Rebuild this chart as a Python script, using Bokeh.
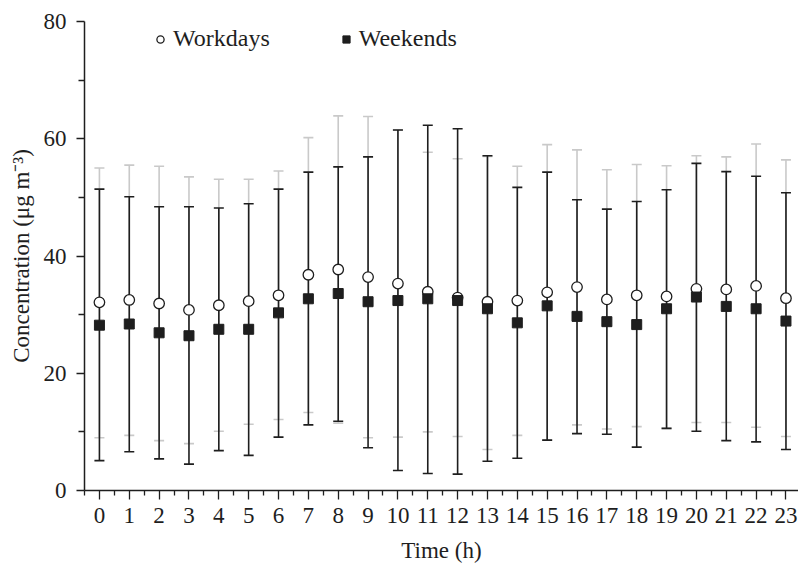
from bokeh.plotting import figure
from bokeh.models import ColumnDataSource, Whisker, TeeHead, FixedTicker, Legend, LegendItem, Range1d
from bokeh.embed import file_html
from bokeh.resources import INLINE

hours = list(range(24))
work_mean = [32.1, 32.5, 31.9, 30.8, 31.6, 32.3, 33.3, 36.8, 37.7, 36.4, 35.3, 33.9,
             32.9, 32.2, 32.4, 33.8, 34.7, 32.6, 33.3, 33.1, 34.4, 34.3, 34.9, 32.8]
work_upper = [55.0, 55.5, 55.3, 53.5, 53.1, 53.1, 54.5, 60.2, 63.9, 63.8, 61.5, 57.7,
              56.6, 57.0, 55.3, 59.0, 58.1, 54.7, 55.6, 55.4, 57.1, 56.9, 59.1, 56.4]
work_lower = [9.0, 9.4, 8.5, 8.0, 10.1, 11.3, 12.1, 13.3, 11.5, 9.0, 9.1, 10.0,
              9.2, 7.0, 9.4, 8.6, 11.2, 10.5, 10.9, 10.6, 11.6, 11.6, 10.8, 9.2]
weekend_mean = [28.2, 28.4, 26.9, 26.4, 27.5, 27.5, 30.3, 32.7, 33.6, 32.2, 32.4, 32.7,
                32.4, 31.0, 28.6, 31.5, 29.7, 28.8, 28.3, 31.0, 33.0, 31.4, 31.0, 28.9]
weekend_upper = [51.4, 50.1, 48.4, 48.4, 48.2, 48.9, 51.4, 54.3, 55.2, 56.9, 61.5, 62.3,
                 61.7, 57.1, 51.7, 54.3, 49.6, 48.0, 49.3, 51.3, 55.8, 54.4, 53.6, 50.8]
weekend_lower = [5.1, 6.6, 5.4, 4.5, 6.8, 6.0, 9.1, 11.2, 11.8, 7.3, 3.4, 2.9,
                 2.8, 5.0, 5.5, 8.6, 9.7, 9.6, 7.4, 10.6, 10.1, 8.5, 8.3, 7.0]
y_ticks = [0, 20, 40, 60, 80]
y_minor = [10, 30, 50, 70]
series_labels = ["Workdays", "Weekends"]
x_title = "Time (h)"
y_title = "Concentration (\u03bcg m\u207b\u00b3)"

FONT = "Liberation Serif"
GRAY = "#c9c9c9"
BLACK = "#1e1e1e"

src = ColumnDataSource(dict(x=hours, wm=work_mean, wu=work_upper, wl=work_lower,
                            em=weekend_mean, eu=weekend_upper, el=weekend_lower))

p = figure(frame_width=714, frame_height=469, output_backend="svg", toolbar_location=None,
           x_range=Range1d(hours[0] - 0.5, hours[-1] + 0.42), y_range=Range1d(y_ticks[0], y_ticks[-1]),
           min_border_left=84, min_border_right=0, min_border_top=21, min_border_bottom=40)
p.outline_line_color = None
p.xgrid.visible = False
p.ygrid.visible = False
p.background_fill_color = "white"

wg = Whisker(source=src, base="x", upper="wu", lower="wl", dimension="height",
             line_color=GRAY, line_width=1.6,
             upper_head=TeeHead(size=10, line_color=GRAY, line_width=1.6),
             lower_head=TeeHead(size=10, line_color=GRAY, line_width=1.6))
wb = Whisker(source=src, base="x", upper="eu", lower="el", dimension="height",
             line_color=BLACK, line_width=1.6,
             upper_head=TeeHead(size=10, line_color=BLACK, line_width=1.6),
             lower_head=TeeHead(size=10, line_color=BLACK, line_width=1.6))
p.add_layout(wg)
p.add_layout(wb)

r_work = p.scatter("x", "wm", source=src, marker="circle", size=10.5,
                   fill_color="white", line_color=BLACK, line_width=1.3)
r_week = p.scatter("x", "em", source=src, marker="square", size=10,
                   fill_color=BLACK, line_color=BLACK, line_width=1)

legend = Legend(items=[LegendItem(label=series_labels[0], renderers=[r_work]),
                       LegendItem(label=series_labels[1], renderers=[r_week])],
                orientation="horizontal", location=(67, 438),
                padding=0, margin=0, spacing=67, glyph_width=18, glyph_height=18,
                label_standoff=4, label_height=24,
                border_line_color=None, background_fill_alpha=0,
                label_text_font=FONT, label_text_font_size="24px", label_text_color=BLACK)
p.add_layout(legend)

xa = p.xaxis[0]
xa.ticker = FixedTicker(ticks=hours, minor_ticks=[h - 0.5 for h in hours] + [hours[-1] + 0.5])
xa.axis_label = x_title
ya = p.yaxis[0]
ya.ticker = FixedTicker(ticks=y_ticks, minor_ticks=y_minor)
ya.axis_label = y_title

for ax in (xa, ya):
    ax.axis_line_color = BLACK
    ax.axis_line_width = 1.5
    ax.major_tick_line_color = BLACK
    ax.minor_tick_line_color = BLACK
    ax.major_tick_line_width = 1.3
    ax.minor_tick_line_width = 1.3
    ax.major_tick_in = 0
    ax.minor_tick_in = 0
    ax.major_label_text_font = FONT
    ax.major_label_text_font_size = "23px"
    ax.major_label_text_color = BLACK
    ax.axis_label_text_font = FONT
    ax.axis_label_text_font_size = "23px"
    ax.axis_label_text_font_style = "normal"
    ax.axis_label_text_color = BLACK

xa.major_tick_out = 9
xa.minor_tick_out = 5
xa.major_label_standoff = 8
xa.axis_label_standoff = 12
ya.major_tick_out = 8
ya.minor_tick_out = 6
ya.major_label_standoff = 10
ya.axis_label_standoff = 7

open("out.html", "w").write(file_html(p, INLINE))
